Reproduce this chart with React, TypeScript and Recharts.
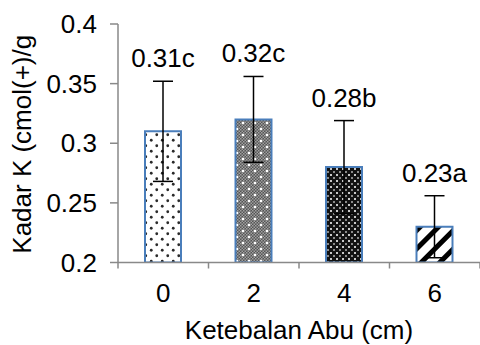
import React from 'react';
import { BarChart, Bar, XAxis, YAxis, ErrorBar, Cell, LabelList, Label } from 'recharts';

const categories = ['0', '2', '4', '6'];
const values = [0.31, 0.32, 0.28, 0.23];
const errors = [0.042, 0.036, 0.039, 0.026];
const letters = ['c', 'c', 'b', 'a'];
const yTicks = [0.2, 0.25, 0.3, 0.35, 0.4];
const patternIds = ['pDots', 'pGray', 'pDark', 'pDiag'];

const data = categories.map((c, i) => ({ cat: c, value: values[i], err: errors[i], letter: letters[i] }));

const FONT = '"Liberation Sans", Arial, sans-serif';
const AXIS = '#898989';
const FS = 26;

const XTick = (props: any) => {
  const { x, y, payload, index, visibleTicksCount } = props;
  const off = payload && payload.offset ? payload.offset : 45;
  return (
    <g>
      <line x1={x - off} y1={y} x2={x - off} y2={y + 6} stroke={AXIS} strokeWidth={1.5} />
      {index === visibleTicksCount - 1 ? (
        <line x1={x + off} y1={y} x2={x + off} y2={y + 6} stroke={AXIS} strokeWidth={1.5} />
      ) : null}
      <text x={x} y={y + 39} textAnchor="middle" fontFamily={FONT} fontSize={FS} fill="#000">
        {payload.value}
      </text>
    </g>
  );
};

const TopLabel = (props: any) => {
  const { x, y, width, height, index } = props;
  const v = values[index];
  const e = errors[index];
  const ppu = height / (v - 0.2);
  const whiskerTop = y - e * ppu;
  return (
    <text x={x + width / 2} y={whiskerTop - 14} textAnchor="middle" fontFamily={FONT} fontSize={FS} fill="#000">
      {v.toFixed(2) + letters[index]}
    </text>
  );
};

export default function App() {
  return (
    <div style={{ position: 'absolute', left: 0, top: 0, width: 480, height: 345, background: '#fff' }}>
      <BarChart width={480} height={345} data={data} margin={{ top: 24, right: 0, bottom: 0, left: 0 }}>
        <defs>
          <pattern id="pDots" width="11" height="11" patternUnits="userSpaceOnUse">
            <rect width="11" height="11" fill="#fff" />
            <circle cx="2.75" cy="2.75" r="1.4" fill="#2a2a2a" />
            <circle cx="8.25" cy="8.25" r="1.4" fill="#2a2a2a" />
          </pattern>
          <pattern id="chkGray" width="3" height="3" patternUnits="userSpaceOnUse">
            <rect width="3" height="3" fill="#555" />
            <rect width="1.5" height="1.5" fill="#a0a0a0" />
            <rect x="1.5" y="1.5" width="1.5" height="1.5" fill="#a0a0a0" />
          </pattern>
          <pattern id="pGray" width="12" height="12" patternUnits="userSpaceOnUse">
            <rect width="12" height="12" fill="url(#chkGray)" />
            <circle cx="3" cy="3" r="1.3" fill="#fff" />
            <circle cx="9" cy="9" r="1.3" fill="#fff" />
          </pattern>
          <pattern id="pDark" width="6" height="6" patternUnits="userSpaceOnUse">
            <rect width="6" height="6" fill="#111" />
            <rect x="0" y="0" width="2" height="2" fill="#c8c8c8" />
            <rect x="3" y="3" width="2" height="2" fill="#8a8a8a" />
          </pattern>
          <pattern id="pDiag" width="13" height="13" patternUnits="userSpaceOnUse" patternTransform="rotate(45)">
            <rect width="13" height="13" fill="#fff" />
            <rect x="0" y="0" width="5" height="13" fill="#000" />
          </pattern>
        </defs>
        <XAxis
          dataKey="cat"
          height={82.5}
          axisLine={{ stroke: AXIS, strokeWidth: 1.5 }}
          tickLine={false}
          tickSize={0}
          tickMargin={0}
          interval={0}
          tick={<XTick />}
        >
          <Label
            content={(p: any) => {
              const vb = p.viewBox;
              return (
                <text x={vb.x + vb.width / 2} y={vb.y + 76} textAnchor="middle" fontFamily={FONT} fontSize={FS} fill="#000">
                  Ketebalan Abu (cm)
                </text>
              );
            }}
          />
        </XAxis>
        <YAxis
          domain={[0.2, 0.4]}
          ticks={yTicks}
          width={118}
          axisLine={{ stroke: AXIS, strokeWidth: 1.5 }}
          tickLine={{ stroke: AXIS, strokeWidth: 1.5 }}
          tickSize={8}
          tickMargin={13}
          tick={{ fontFamily: FONT, fontSize: FS, fill: '#000' }}
          allowDataOverflow
        >
          <Label
            content={(p: any) => {
              const vb = p.viewBox;
              const cy = vb.y + vb.height / 2 + 1;
              return (
                <text x={31} y={cy} transform={`rotate(-90, 31, ${cy})`} textAnchor="middle" fontFamily={FONT} fontSize={FS} fill="#000">
                  Kadar K (cmol(+)/g
                </text>
              );
            }}
          />
        </YAxis>
        <Bar dataKey="value" barSize={36} stroke="#4a7ebb" strokeWidth={2} isAnimationActive={false}>
          {data.map((d, i) => (
            <Cell key={d.cat} fill={`url(#${patternIds[i]})`} />
          ))}
          <ErrorBar dataKey="err" width={10} stroke="#000" strokeWidth={1.5} direction="y" />
          <LabelList dataKey="value" content={<TopLabel />} />
        </Bar>
      </BarChart>
    </div>
  );
}
